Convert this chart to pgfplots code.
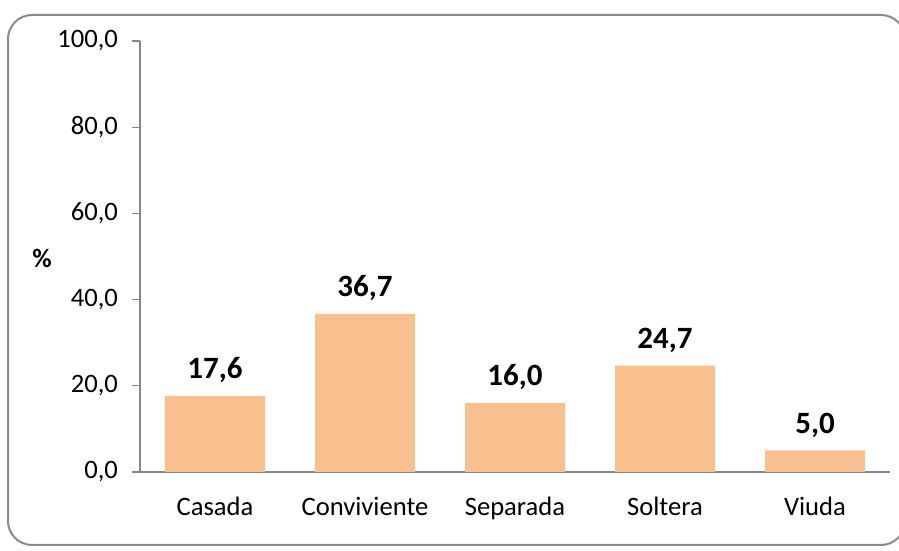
\documentclass[border=0pt]{standalone}
\usepackage{fontspec}
\setmainfont{Carlito}
\usepackage{pgfplots}
\pgfplotsset{compat=1.18}
\definecolor{barc}{HTML}{F9C08F}
\definecolor{axc}{HTML}{868686}
\definecolor{framec}{HTML}{8A8A8A}
\begin{document}
\begin{tikzpicture}[x=0.5pt,y=0.5pt]
\useasboundingbox (0,0) rectangle (899,551);
\fill[white] (0,0) rectangle (899,551);
\draw[framec, line width=1pt, rounded corners=12pt] (8,6) rectangle (905,536);
\begin{axis}[
  at={(70pt,39.5pt)}, anchor=south west,
  scale only axis,
  width=375pt, height=215.5pt,
  xmin=-0.5, xmax=4.5,
  ymin=0, ymax=100,
  axis x line*=bottom,
  axis y line*=left,
  axis line style={axc, line width=0.6pt},
  ytick={0,20,40,60,80,100},
  xtick={0,1,2,3,4},
  xticklabels={Casada,Conviviente,Separada,Soltera,Viuda},
  x tick style={draw=none},
  y tick style={axc, line width=0.6pt},
  tick align=outside,
  major tick length=4pt,
  /pgf/number format/assume math mode=true,
  yticklabel={\pgfmathprintnumber[fixed,fixed zerofill,precision=1,use comma]{\tick}},
  ticklabel style={font=\fontsize{13.3}{15}\selectfont, text=black},
  yticklabel style={xshift=-3.5pt},
  xticklabel style={yshift=-5pt},
  ybar, bar width=50pt,
  nodes near coords={\pgfmathprintnumber[fixed,fixed zerofill,precision=1,use comma]{\pgfplotspointmeta}},
  nodes near coords style={font=\fontsize{15.5}{18}\bfseries\selectfont, text=black, yshift=3pt},
  clip=false,
]
\addplot[fill=barc, draw=none] coordinates {(0,17.6) (1,36.7) (2,16.0) (3,24.7) (4,5.0)};
\end{axis}
\node[font=\fontsize{13.3}{15}\bfseries\selectfont] at (42,293) {\%};
\end{tikzpicture}
\end{document}
